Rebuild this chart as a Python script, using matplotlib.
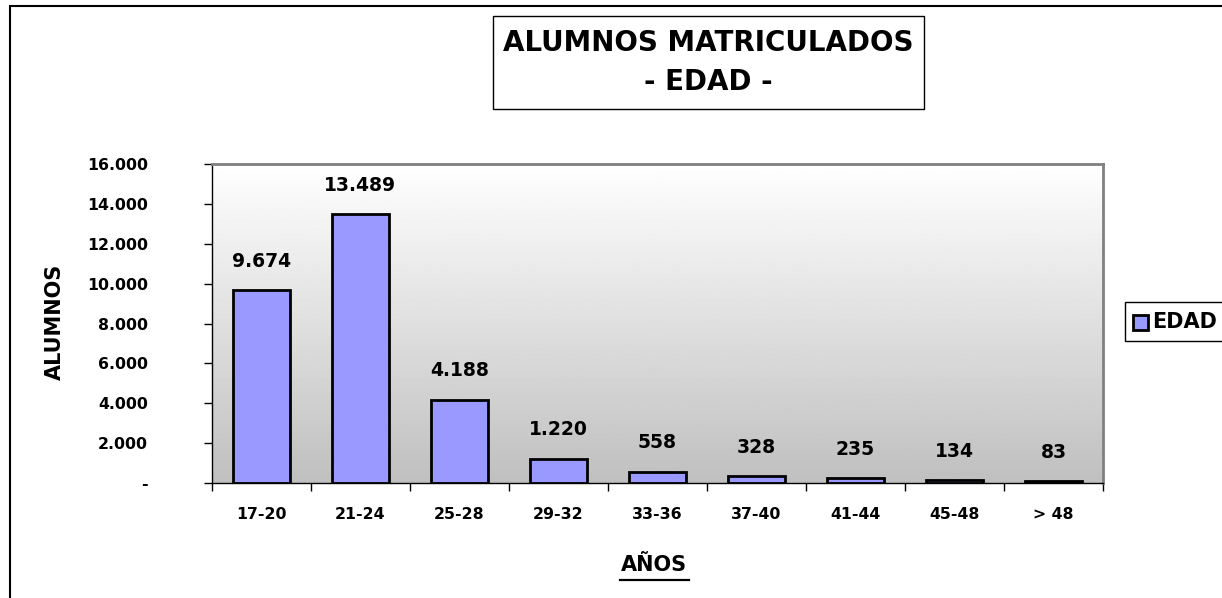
import numpy as np
import matplotlib.pyplot as plt
from matplotlib.patches import Rectangle
from matplotlib.ticker import FuncFormatter

categorias = ["17-20", "21-24", "25-28", "29-32", "33-36", "37-40", "41-44", "45-48", "> 48"]
alumnos = [9674, 13489, 4188, 1220, 558, 328, 235, 134, 83]
etiquetas = ["9.674", "13.489", "4.188", "1.220", "558", "328", "235", "134", "83"]

plt.rcParams['font.family'] = ['DejaVu Sans']
plt.rcParams['font.weight'] = 'bold'

W, H = 1222, 598
fig = plt.figure(figsize=(W / 100, H / 100), dpi=100)
ax = fig.add_axes([212 / W, 1 - 483 / H, (1103 - 212) / W, (483 - 164) / H])

# fondo degradado del area de trazado
grad = np.linspace(1.0, 0.75, 256).reshape(-1, 1)
ax.imshow(grad, cmap='gray', vmin=0, vmax=1, aspect='auto',
          extent=[-0.5, len(categorias) - 0.5, 0, 16000], zorder=0)

x = np.arange(len(categorias))
ax.bar(x, alumnos, width=0.57, color='#9999ff', edgecolor='black', linewidth=2, zorder=2)

for xi, v, t in zip(x, alumnos, etiquetas):
    ax.annotate(t, (xi, v), xytext=(0, 14), textcoords='offset points',
                ha='center', va='bottom', fontsize=13.5, fontweight='bold')

ax.set_xlim(-0.5, len(categorias) - 0.5)
ax.set_ylim(0, 16000)
ax.set_yticks(np.arange(0, 16001, 2000))
ax.yaxis.set_major_formatter(FuncFormatter(
    lambda v, p: '-' if v == 0 else f"{int(v):,}".replace(',', '.')))

ax.set_xticks(x)
ax.set_xticklabels(categorias)
ax.set_xticks(np.arange(-0.5, len(categorias)), minor=True)
ax.tick_params(axis='x', which='major', length=0, pad=17, labelsize=11.3)
ax.tick_params(axis='x', which='minor', length=6, width=1, direction='out')
ax.tick_params(axis='y', length=6, width=1, direction='out', pad=40, labelsize=11.3)

for s in ['top', 'right']:
    ax.spines[s].set_color('#808080')
    ax.spines[s].set_linewidth(2)
for s in ['left', 'bottom']:
    ax.spines[s].set_color('black')
    ax.spines[s].set_linewidth(1)

fig.text(55 / W, 1 - 322 / H, "ALUMNOS", rotation=90, ha='center', va='center',
         fontsize=15, fontweight='bold')
fig.text(654 / W, 1 - 565 / H, "AÑOS", ha='center', va='center',
         fontsize=15, fontweight='bold')
fig.add_artist(plt.Line2D([620 / W, 689 / W], [1 - 580 / H, 1 - 580 / H],
                          color='black', linewidth=1.6))

# caja del titulo
fig.add_artist(Rectangle((493 / W, 1 - 109 / H), (924 - 493) / W, (109 - 16) / H,
                         transform=fig.transFigure, facecolor='white',
                         edgecolor='black', linewidth=1))
fig.text(708 / W, 1 - 43 / H, "ALUMNOS MATRICULADOS", ha='center',
         va='center', fontsize=20, fontweight='bold')
fig.text(708 / W, 1 - 82 / H, "- EDAD -", ha='center',
         va='center', fontsize=20, fontweight='bold')

# leyenda (cortada a la derecha)
fig.add_artist(Rectangle((1125 / W, 1 - 341 / H), 120 / W, 39 / H,
                         transform=fig.transFigure, facecolor='white',
                         edgecolor='black', linewidth=1))
fig.add_artist(Rectangle((1133 / W, 1 - 330 / H), 15 / W, 15 / H,
                         transform=fig.transFigure, facecolor='#9999ff',
                         edgecolor='black', linewidth=2))
fig.text(1152 / W, 1 - 322 / H, "EDAD", ha='left', va='center',
         fontsize=15, fontweight='bold')

# borde exterior del grafico
fig.add_artist(Rectangle((10 / W, -0.05), 1.1, 1 - 6 / H + 0.05,
                         transform=fig.transFigure, facecolor='none',
                         edgecolor='black', linewidth=1.5))

fig.savefig("out.png", dpi=100)
